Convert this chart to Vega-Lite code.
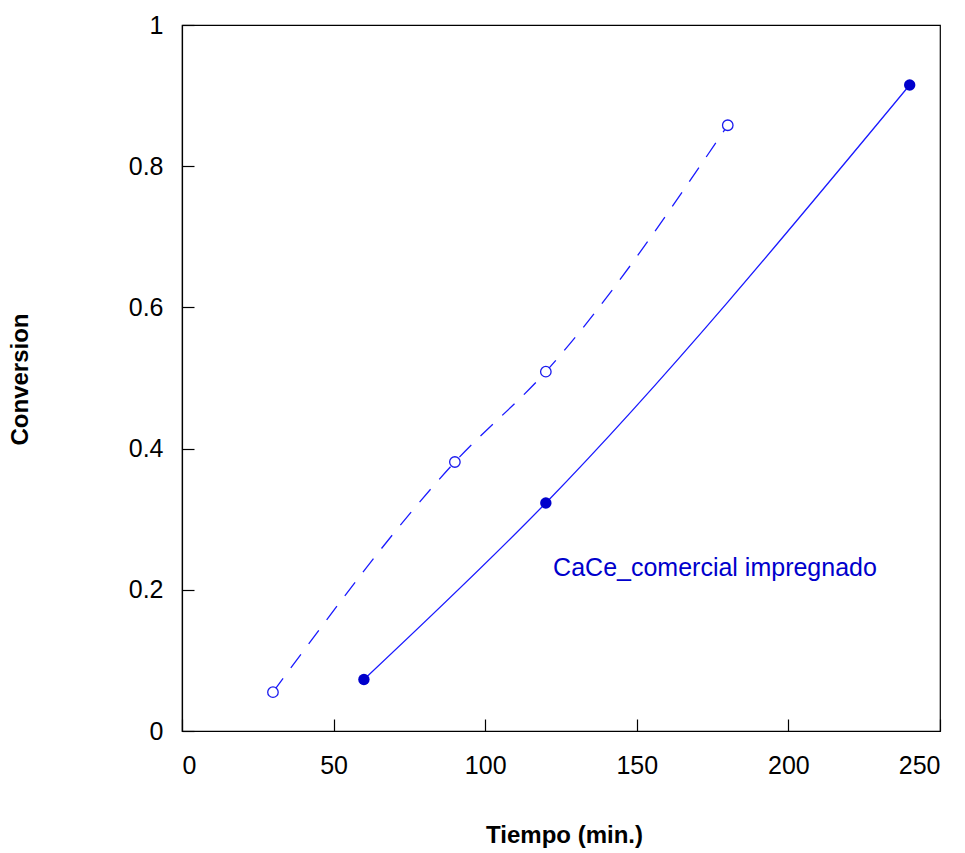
{
  "$schema": "https://vega.github.io/schema/vega-lite/v6.json",
  "width": 758,
  "height": 706,
  "autosize": "none",
  "padding": {"left": 182, "top": 25, "right": 25, "bottom": 122},
  "background": "white",
  "config": {
    "view": {"stroke": "black", "strokeWidth": 1.2},
    "font": "Liberation Sans",
    "axis": {
      "grid": false,
      "domain": true,
      "domainColor": "black",
      "domainWidth": 1.2,
      "tickColor": "black",
      "tickWidth": 1.2,
      "tickSize": -12,
      "labelFont": "Liberation Sans",
      "labelFontSize": 25,
      "labelColor": "black",
      "titleFont": "Liberation Sans",
      "titleFontWeight": "bold",
      "titleColor": "black"
    }
  },
  "datasets": {
    "open": [
      {"t": 30, "c": 0.055},
      {"t": 90, "c": 0.381},
      {"t": 120, "c": 0.509},
      {"t": 180, "c": 0.858}
    ],
    "filled": [
      {"t": 60, "c": 0.073},
      {"t": 120, "c": 0.323},
      {"t": 240, "c": 0.915}
    ],
    "label": [
      {"t": 122.4, "c": 0.231, "txt": "CaCe_comercial impregnado"}
    ]
  },
  "encoding": {
    "x": {
      "field": "t", "type": "quantitative",
      "scale": {"domain": [0, 250], "nice": false},
      "axis": {"values": [0, 50, 100, 150, 200, 250], "title": "Tiempo (min.)", "labelPadding": 34, "titleFontSize": 24, "titleX": 382, "titleY": 111, "titleBaseline": "alphabetic", "titleAlign": "center"}
    },
    "y": {
      "field": "c", "type": "quantitative",
      "scale": {"domain": [0, 1], "nice": false},
      "axis": {"values": [0, 0.2, 0.4, 0.6, 0.8, 1], "format": "~g", "title": "Conversion", "labelPadding": 31, "titleFontSize": 24, "titleX": -162, "titleY": 354, "titleAngle": -90, "titleBaseline": "middle", "titleAlign": "center"}
    }
  },
  "layer": [
    {
      "data": {"name": "open"},
      "mark": {"type": "line", "interpolate": "monotone", "color": "#1a1aff", "strokeWidth": 1.3, "strokeDash": [17, 13]}
    },
    {
      "data": {"name": "open"},
      "mark": {"type": "point", "shape": "circle", "filled": false, "size": 110, "color": "#1a1aee", "strokeWidth": 1.3, "opacity": 1, "fill": "white"}
    },
    {
      "data": {"name": "filled"},
      "mark": {"type": "line", "interpolate": "monotone", "color": "#1a1aff", "strokeWidth": 1.3}
    },
    {
      "data": {"name": "filled"},
      "mark": {"type": "point", "shape": "circle", "filled": true, "size": 130, "color": "#0000cc", "opacity": 1}
    },
    {
      "data": {"name": "label"},
      "mark": {"type": "text", "align": "left", "baseline": "middle", "fontSize": 25, "color": "#0000cc", "font": "Liberation Sans"},
      "encoding": {"text": {"field": "txt"}}
    }
  ]
}
